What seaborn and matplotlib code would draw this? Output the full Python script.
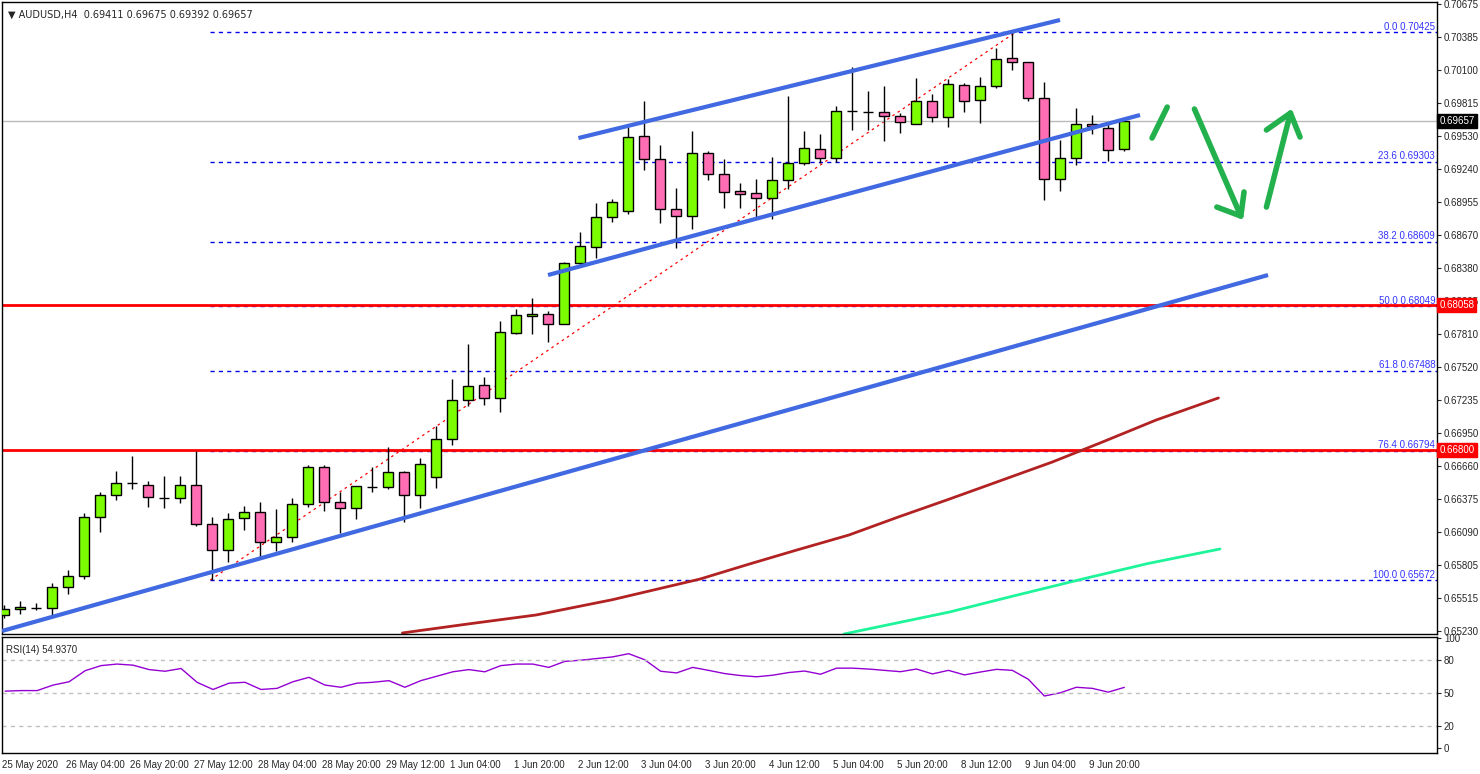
import matplotlib
matplotlib.use("Agg")
import matplotlib.pyplot as plt
import seaborn as sns
import numpy as np
import pandas as pd

# AUDUSD H4 candles
opens = [0.65368, 0.65420, 0.65429, 0.65429, 0.65611, 0.65706, 0.66218, 0.66409, 0.66514, 0.66496,
         0.66383, 0.66383, 0.66496, 0.66158, 0.65932, 0.66210, 0.66262, 0.66001, 0.66045, 0.66331,
         0.66652, 0.66349, 0.66297, 0.66479, 0.66479, 0.66609, 0.66409, 0.66566, 0.66895, 0.67234,
         0.67364, 0.67251, 0.67816, 0.67963, 0.67980, 0.67894, 0.68423, 0.68562, 0.68822, 0.68875,
         0.69526, 0.69326, 0.68892, 0.68831, 0.69378, 0.69196, 0.69048, 0.69031, 0.68987, 0.69144,
         0.69291, 0.69413, 0.69335, 0.69743, 0.69734, 0.69734, 0.69699, 0.69630, 0.69829, 0.69690,
         0.69968, 0.69838, 0.69960, 0.70203, 0.70168, 0.69855, 0.69152, 0.69335, 0.69630, 0.69595,
         0.69411]
highs = [0.65455, 0.65489, 0.65472, 0.65646, 0.65758, 0.66253, 0.66435, 0.66618, 0.66748, 0.66531,
         0.66574, 0.66574, 0.66791, 0.66218, 0.66253, 0.66314, 0.66349, 0.66288, 0.66383, 0.66670,
         0.66670, 0.66435, 0.66488, 0.66652, 0.66826, 0.66618, 0.66731, 0.67008, 0.67416, 0.67720,
         0.67434, 0.67920, 0.68024, 0.68119, 0.68007, 0.68432, 0.68692, 0.68944, 0.68979, 0.69604,
         0.69829, 0.69447, 0.69074, 0.69569, 0.69395, 0.69326, 0.69118, 0.69152, 0.69343, 0.69873,
         0.69569, 0.69543, 0.69786, 0.70124, 0.69916, 0.69960, 0.69725, 0.70029, 0.69890, 0.70020,
         0.69986, 0.70038, 0.70289, 0.70425, 0.70168, 0.69994, 0.69491, 0.69769, 0.69708, 0.69630,
         0.69675]
lows = [0.65342, 0.65376, 0.65411, 0.65368, 0.65550, 0.65680, 0.66088, 0.66366, 0.66461, 0.66305,
        0.66297, 0.66340, 0.66140, 0.65672, 0.65828, 0.66106, 0.65871, 0.65923, 0.66001, 0.66305,
        0.66271, 0.66080, 0.66201, 0.66435, 0.66461, 0.66175, 0.66297, 0.66470, 0.66843, 0.67182,
        0.67191, 0.67130, 0.67807, 0.67807, 0.67737, 0.67894, 0.68406, 0.68467, 0.68779, 0.68848,
        0.69230, 0.68770, 0.68553, 0.68718, 0.69144, 0.68901, 0.68901, 0.68814, 0.68805, 0.69065,
        0.69274, 0.69291, 0.69300, 0.69578, 0.69578, 0.69482, 0.69552, 0.69630, 0.69647, 0.69604,
        0.69734, 0.69638, 0.69942, 0.70098, 0.69829, 0.68970, 0.69048, 0.69274, 0.69543, 0.69309,
        0.69392]
closes = [0.65420, 0.65437, 0.65429, 0.65611, 0.65706, 0.66218, 0.66409, 0.66514, 0.66514, 0.66392,
          0.66383, 0.66496, 0.66158, 0.65932, 0.66201, 0.66262, 0.66001, 0.66045, 0.66331, 0.66652,
          0.66349, 0.66297, 0.66488, 0.66479, 0.66609, 0.66409, 0.66678, 0.66895, 0.67234, 0.67356,
          0.67251, 0.67824, 0.67972, 0.67980, 0.67894, 0.68423, 0.68571, 0.68822, 0.68953, 0.69517,
          0.69326, 0.68892, 0.68831, 0.69378, 0.69196, 0.69039, 0.69022, 0.68987, 0.69144, 0.69291,
          0.69421, 0.69335, 0.69743, 0.69743, 0.69734, 0.69699, 0.69647, 0.69829, 0.69690, 0.69977,
          0.69829, 0.69960, 0.70194, 0.70168, 0.69855, 0.69152, 0.69335, 0.69630, 0.69612, 0.69404,
          0.69657]

rsi = [51.5, 52, 52, 57, 60, 70, 74.6, 76, 75, 71, 69.5, 72, 59.5, 53, 58.7, 59.5, 53, 54, 60, 64,
       57, 55, 58.7, 59.5, 61, 55, 61, 65, 69, 71, 69, 74.6, 76, 76, 73, 78.4, 79.5, 81, 82.5, 85.4,
       79.9, 69.5, 68, 73, 70.3, 67.4, 65.6, 64.5, 65.9, 68.3, 69.7, 66.8, 72.3, 72.3, 71.5, 70.3,
       69.1, 71.5, 67.1, 70.3, 66.2, 68.8, 71.2, 70.3, 62.2, 47.1, 50, 55, 54, 50.6, 54.9]

# moving averages (bar index, price), shifted forward like the original
ma_red_x = [24.9, 29.0, 33.25, 38.0, 43.5, 46.6, 49.5, 52.8, 55.9, 59.0, 62.4, 65.5, 68.5, 72.0, 75.9]
ma_red_y = [0.65212, 0.65290, 0.65368, 0.65500, 0.65680, 0.65811, 0.65930, 0.66062, 0.66219,
            0.66370, 0.66540, 0.66695, 0.66861, 0.67060, 0.67252]
ma_green_x = [52.5, 55.5, 59.1, 63.0, 67.4, 71.5, 76.0]
ma_green_y = [0.65203, 0.65290, 0.65394, 0.65530, 0.65680, 0.65815, 0.65941]

fib_levels = [0.70425, 0.69303, 0.68609, 0.68049, 0.67488, 0.66794, 0.65672]
fib_names = ["0.0", "23.6", "38.2", "50.0", "61.8", "76.4", "100.0"]
red_levels = [0.68058, 0.66800]
last_price = 0.69657

price_ticks = [0.70675, 0.70385, 0.70100, 0.69815, 0.69530, 0.69240, 0.68955, 0.68670, 0.68380,
               0.68095, 0.67810, 0.67520, 0.67235, 0.66950, 0.66660, 0.66375, 0.66090, 0.65805,
               0.65515, 0.65230]
time_labels = ["25 May 2020", "26 May 04:00", "26 May 20:00", "27 May 12:00", "28 May 04:00",
               "28 May 20:00", "29 May 12:00", "1 Jun 04:00", "1 Jun 20:00", "2 Jun 12:00",
               "3 Jun 04:00", "3 Jun 20:00", "4 Jun 12:00", "5 Jun 04:00", "5 Jun 20:00",
               "8 Jun 12:00", "9 Jun 04:00", "9 Jun 20:00"]

# drawn trend lines ((x0, x1), (y0, y1)) in bar index / price
trend_lines = [((-0.125, 79.0), (0.65229, 0.68319)),
               ((34.0, 71.0), (0.68319, 0.69708)),
               ((35.9, 66.0), (0.69508, 0.70533))]
fib_diag = ((12.9, 63.2), (0.65672, 0.70425))
arrow_strokes = [
    [(71.75, 0.69508), (72.7, 0.69777)],
    [(74.4, 0.69760), (77.3, 0.68831)],
    [(75.8, 0.68909), (77.3, 0.68831), (77.5, 0.69040)],
    [(78.9, 0.68909), (80.4, 0.69725)],
    [(78.9, 0.69578), (80.4, 0.69725), (81.0, 0.69517)],
]

sns.set_style("white")
plt.rcParams['font.family'] = ['Liberation Sans', 'DejaVu Sans']
FS = 7

df = pd.DataFrame({"idx": np.arange(len(opens)), "open": opens, "high": highs,
                   "low": lows, "close": closes, "rsi": rsi})

fig = plt.figure(figsize=(14.8, 7.74), dpi=100)
ax = fig.add_axes([2 / 1480, 1 - 634 / 774, 1435 / 1480, 632 / 774])
ax2 = fig.add_axes([2 / 1480, 1 - 753 / 774, 1435 / 1480, 116 / 774])
xlim = (-0.125, 89.56)

# fib + levels
for lv, nm in zip(fib_levels, fib_names):
    ax.plot([12.9, xlim[1]], [lv, lv], color="#0000ee", lw=1, ls=(0, (3, 3)), zorder=1)
    ax.text(89.45, lv + 0.00004, f"{nm} {lv:.5f}", color="#3333ff", fontsize=FS,
            ha="right", va="bottom", zorder=6)
ax.plot(fib_diag[0], fib_diag[1], color="red", lw=0.9, ls=(0, (2, 3)), zorder=1)
ax.axhline(last_price, color="#bbbbbb", lw=1, zorder=1)
for lv in red_levels:
    ax.axhline(lv, color="red", lw=2, zorder=2)

# moving averages
sns.lineplot(x=ma_red_x, y=ma_red_y, ax=ax, color="#b22222", lw=2, zorder=2)
sns.lineplot(x=ma_green_x, y=ma_green_y, ax=ax, color="#1ef59a", lw=2, zorder=2)

# candles
up = df["close"] >= df["open"]
ax.vlines(df["idx"], df["low"], df["high"], color="black", lw=1, zorder=3)
body_lo = np.minimum(df["open"], df["close"])
body_h = np.maximum(np.abs(df["close"] - df["open"]), 0.000025)
ax.bar(df["idx"], body_h, bottom=body_lo, width=0.6,
       color=np.where(up, "#7cfc00", "#ff6eb4"), edgecolor="black", lw=1, zorder=4)

for xs, ys in trend_lines:
    ax.plot(xs, ys, color="#4169e1", lw=3, solid_capstyle="butt", zorder=5)
for st in arrow_strokes:
    xs, ys = zip(*st)
    ax.plot(xs, ys, color="#22b14c", lw=4, solid_capstyle="round", zorder=5)

ax.set_xlim(*xlim)
ax.set_ylim(0.65203, 0.70689)
ax.set_xticks([])
ax.yaxis.tick_right()
ax.set_yticks(price_ticks)
ax.set_yticklabels([f"{t:.5f}" for t in price_ticks])
ax.tick_params(axis="y", direction="out", length=3, labelsize=FS, pad=2)
for lv, bg, fg in [(last_price, "black", "white")] + [(lv, "red", "white") for lv in red_levels]:
    ax.text(1.0017, lv, f"{lv:.5f}", transform=ax.get_yaxis_transform(), color=fg,
            fontsize=FS, va="center", ha="left",
            bbox=dict(boxstyle="square,pad=0.2", fc=bg, ec=bg), clip_on=False, zorder=10)
ax.text(0.004, 0.987, "\u25bc AUDUSD,H4  0.69411 0.69675 0.69392 0.69657", transform=ax.transAxes,
        fontsize=FS, va="top", ha="left", family=['DejaVu Sans'])

# RSI
sns.lineplot(data=df, x="idx", y="rsi", ax=ax2, color="#9400d3", lw=1)
for lv in [80, 50, 20]:
    ax2.axhline(lv, color="#c0c0c0", lw=1, ls=(0, (3, 3)))
ax2.set_xlim(*xlim)
ax2.set_ylim(-4.5, 100.5)
ax2.yaxis.tick_right()
ax2.set_yticks([0, 20, 50, 80, 100])
ax2.tick_params(axis="y", direction="out", length=3, labelsize=FS, pad=2)
ax2.set_xticks(np.arange(len(time_labels)) * 4 - 0.2)
ax2.set_xticklabels(time_labels, ha="left")
ax2.tick_params(axis="x", direction="out", length=4, labelsize=FS, pad=1)
ax2.set_xlabel("")
ax2.set_ylabel("")
ax.set_ylabel("")
ax2.text(0.003, 0.93, "RSI(14) 54.9370", transform=ax2.transAxes, fontsize=FS, va="top")

for a in (ax, ax2):
    for s in a.spines.values():
        s.set_color("black")
        s.set_linewidth(1)

fig.savefig("out.png", dpi=100)
